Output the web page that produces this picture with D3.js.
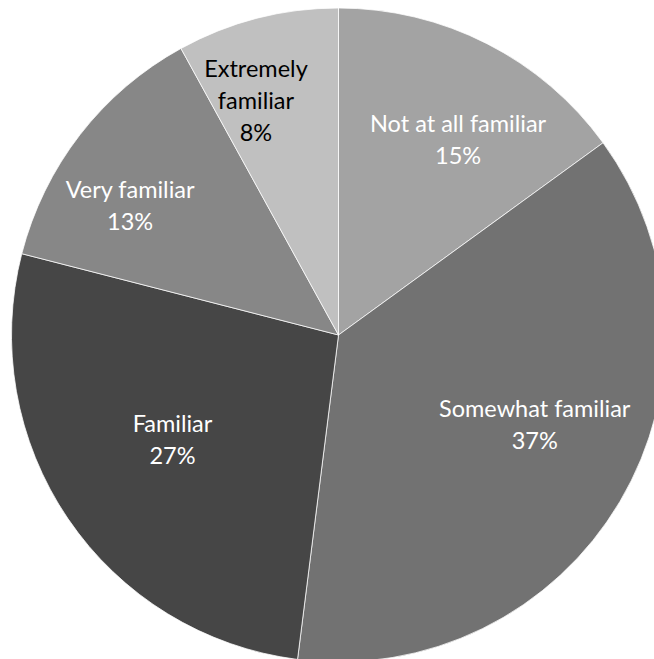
<!DOCTYPE html>
<html>
<head>
<meta charset="utf-8">
<script src="https://cdn.jsdelivr.net/npm/d3@7"></script>
<style>
  html, body { margin: 0; padding: 0; background: #fff; overflow: hidden; }
  svg { display: block; }
</style>
</head>
<body>
<script>
// Familiarity survey: share of respondents per answer
const categories = ["Not at all familiar", "Somewhat familiar", "Familiar", "Very familiar", "Extremely familiar"];
const values = [15, 37, 27, 13, 8];
const labelLines = [["Not at all familiar"], ["Somewhat familiar"], ["Familiar"], ["Very familiar"], ["Extremely", "familiar"]];

// Slice styling
const fills = ["#a3a3a3", "#727272", "#464646", "#878787", "#c0c0c0"];
const textFills = ["#ffffff", "#ffffff", "#ffffff", "#ffffff", "#000000"];
// Label placement: radius as fraction of pie radius, angular nudge in degrees
const labelRadius = [0.70, 0.66, 0.60, 0.75, 0.76];
const labelNudge = [4.5, -6, 2, -6, -5];

const W = 654, H = 659;
const cx = 338.5, cy = 335, R = 327;

const svg = d3.select("body").append("svg").attr("width", W).attr("height", H);
const g = svg.append("g").attr("transform", `translate(${cx},${cy})`);

const pie = d3.pie().sort(null).value(d => d);
const arcs = pie(values);
const arc = d3.arc().innerRadius(0).outerRadius(R);

g.selectAll("path.slice")
  .data(arcs)
  .join("path")
  .attr("class", "slice")
  .attr("d", arc)
  .attr("fill", (d, i) => fills[i])
  .attr("stroke", "#ffffff")
  .attr("stroke-width", 0.75);

const fontSize = 23.5, lineH = 32;
const labels = g.selectAll("text.lbl")
  .data(arcs)
  .join("text")
  .attr("class", "lbl")
  .attr("text-anchor", "middle")
  .attr("font-family", "Lato, 'Open Sans', sans-serif")
  .attr("font-size", fontSize)
  .attr("fill", (d, i) => textFills[i])
  .each(function (d, i) {
    const mid = (d.startAngle + d.endAngle) / 2 + labelNudge[i] * Math.PI / 180;
    const r = R * labelRadius[i];
    const x = r * Math.sin(mid), y = -r * Math.cos(mid);
    const lines = labelLines[i].concat([Math.round(values[i]) + "%"]);
    const top = y - (lines.length - 1) * lineH / 2;
    d3.select(this).selectAll("tspan")
      .data(lines)
      .join("tspan")
      .attr("x", x)
      .attr("y", (t, k) => top + k * lineH)
      .attr("dy", "0.35em")
      .text(t => t);
  });
</script>
</body>
</html>
